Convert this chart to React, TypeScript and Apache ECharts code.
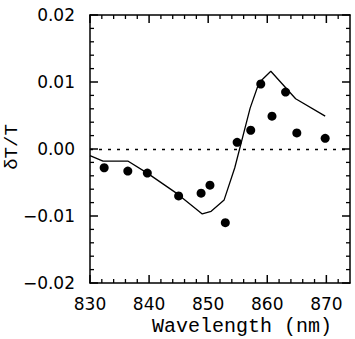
import React, { useEffect, useRef } from "react";
import * as echarts from "echarts";

const xTicks = [830, 840, 850, 860, 870];
const yTicks = [-0.02, -0.01, 0.0, 0.01, 0.02];

const modelWavelength = [830, 832.2, 836.4, 839.7, 844.8, 849.0, 850.5, 852.7, 854.5, 857.1, 858.6, 860.6, 864.8, 869.8];
const modelDT = [-0.0010, -0.0018, -0.0018, -0.0036, -0.0067, -0.0097, -0.0093, -0.0076, -0.0028, 0.0061, 0.0099, 0.0116, 0.0075, 0.0049];

const dataWavelength = [832.4, 836.4, 839.7, 845.0, 848.8, 850.3, 852.9, 854.9, 857.2, 858.9, 860.8, 863.1, 865.0, 869.8];
const dataDT = [-0.0028, -0.0033, -0.0036, -0.0070, -0.0066, -0.0054, -0.0110, 0.0010, 0.0028, 0.0097, 0.0049, 0.0085, 0.0024, 0.0016];

const xLabel = "Wavelength (nm)";
const yLabel = "δT/T";

const X_MIN = 830;
const X_MAX = 874;
const xMinorTicks = [832, 834, 836, 838, 842, 844, 846, 848, 852, 854, 856, 858, 862, 864, 866, 868, 872];
const yMinorTicks = [-0.018, -0.016, -0.014, -0.012, -0.008, -0.006, -0.004, -0.002, 0.002, 0.004, 0.006, 0.008, 0.012, 0.014, 0.016, 0.018];

export default function App() {
  const ref = useRef<HTMLDivElement>(null);
  useEffect(() => {
    if (!ref.current) return;
    const chart = echarts.init(ref.current, null, { renderer: "svg" });
    const yMin = yTicks[0];
    const yMax = yTicks[yTicks.length - 1];
    const fmtY = (v: number) => {
      const r = Math.round(v * 100) / 100;
      if (!yTicks.some((t) => Math.abs(t - r) < 1e-9)) return "";
      const s = Math.abs(r).toFixed(2);
      return r < -1e-9 ? "\u2212" + s : s;
    };
    const tickSeries = (data: number[][], size: number[], offset: number[]) => ({
      type: "scatter",
      data,
      symbol: "rect",
      symbolSize: size,
      symbolOffset: offset,
      itemStyle: { color: "#000", opacity: 1 },
      silent: true,
      clip: false,
      z: 5,
    });
    const xMajorOn = (y: number) => xTicks.map((v) => [v, y]);
    const xMinorOn = (y: number) => xMinorTicks.map((v) => [v, y]);
    const yMajorOn = (x: number) => yTicks.map((v) => [x, v]);
    const yMinorOn = (x: number) => yMinorTicks.map((v) => [x, v]);
    const axisLine = () => ({ show: true, onZero: false, lineStyle: { color: "#000", width: 1.5 } });
    chart.setOption({
      animation: false,
      grid: { left: 90, top: 15, right: 5, bottom: 56 },
      xAxis: [
        {
          type: "value",
          min: X_MIN,
          max: X_MAX,
          interval: 10,
          position: "bottom",
          axisLine: axisLine(),
          axisTick: { show: false },
          splitLine: { show: false },
          axisLabel: { color: "#000", fontFamily: "DejaVu Sans", fontSize: 17, margin: 12, showMaxLabel: false },
        },
        {
          type: "value",
          min: X_MIN,
          max: X_MAX,
          interval: 10,
          position: "top",
          axisLine: axisLine(),
          axisTick: { show: false },
          splitLine: { show: false },
          axisLabel: { show: false },
        },
      ],
      yAxis: [
        {
          type: "value",
          min: yMin,
          max: yMax,
          interval: 0.01,
          position: "left",
          axisLine: axisLine(),
          axisTick: { show: false },
          splitLine: { show: false },
          axisLabel: { color: "#000", fontFamily: "DejaVu Sans", fontSize: 17, margin: 15, formatter: fmtY },
        },
        {
          type: "value",
          min: yMin,
          max: yMax,
          interval: 0.01,
          position: "right",
          axisLine: axisLine(),
          axisTick: { show: false },
          splitLine: { show: false },
          axisLabel: { show: false },
        },
      ],
      graphic: [
        {
          type: "text",
          x: 242,
          y: 326,
          style: {
            text: xLabel,
            fill: "#000",
            font: "20px 'Liberation Mono'",
            textAlign: "center",
            textVerticalAlign: "middle",
          },
        },
        {
          type: "text",
          x: 12,
          y: 147,
          rotation: Math.PI / 2,
          style: {
            text: yLabel,
            fill: "#000",
            font: "19px 'Liberation Mono'",
            textAlign: "center",
            textVerticalAlign: "middle",
          },
        },
      ],
      series: [
        {
          type: "line",
          data: modelWavelength.map((x, i) => [x, modelDT[i]]),
          showSymbol: false,
          symbol: "none",
          lineStyle: { color: "#000", width: 1.3 },
          markLine: {
            silent: true,
            symbol: "none",
            label: { show: false },
            lineStyle: { color: "#000", width: 1.3, type: [3, 6] },
            data: [{ yAxis: 0 }],
          },
          z: 3,
        },
        {
          type: "scatter",
          data: dataWavelength.map((x, i) => [x, dataDT[i]]),
          symbol: "circle",
          symbolSize: 9,
          itemStyle: { color: "#000", opacity: 1 },
          z: 4,
        },
        tickSeries(xMajorOn(yMin), [1.5, 8], [0, -4]),
        tickSeries(xMinorOn(yMin), [1.3, 4], [0, -2]),
        tickSeries(xMajorOn(yMax), [1.5, 8], [0, 4]),
        tickSeries(xMinorOn(yMax), [1.3, 4], [0, 2]),
        tickSeries(yMajorOn(X_MIN), [8, 1.5], [4, 0]),
        tickSeries(yMinorOn(X_MIN), [4, 1.3], [2, 0]),
        tickSeries(yMajorOn(X_MAX), [8, 1.5], [-4, 0]),
        tickSeries(yMinorOn(X_MAX), [4, 1.3], [-2, 0]),
      ],
    });
    return () => chart.dispose();
  }, []);
  return <div ref={ref} style={{ width: 355, height: 339, position: "absolute", left: 0, top: 0 }} />;
}
